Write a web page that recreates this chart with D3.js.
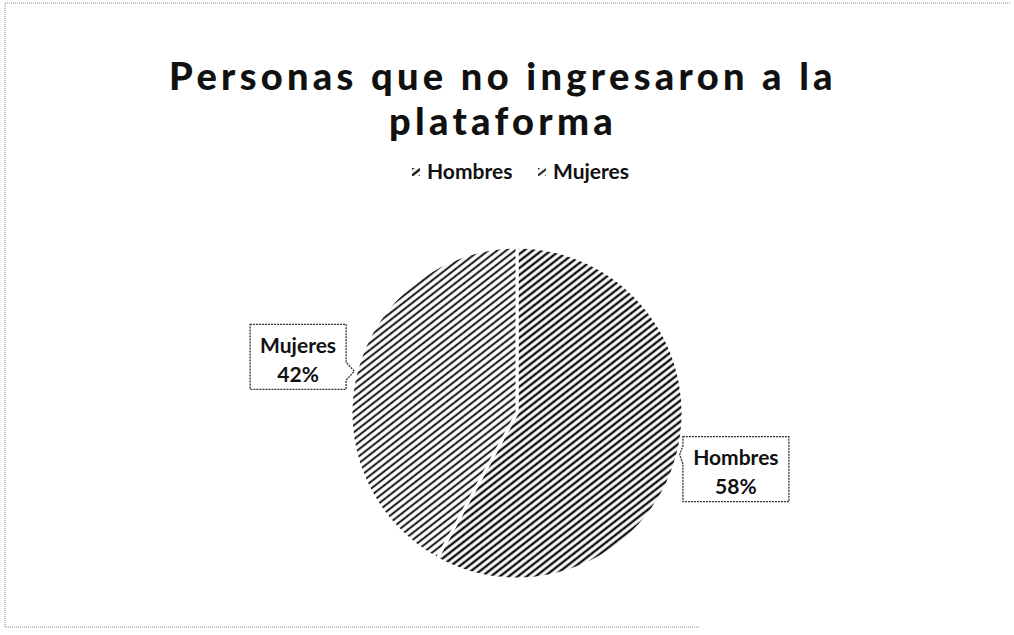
<!DOCTYPE html>
<html>
<head>
<meta charset="utf-8">
<script src="https://cdn.jsdelivr.net/npm/d3@7"></script>
<style>
  body { margin: 0; background: #fff; }
  svg { display: block; font-family: Lato, "Open Sans", sans-serif; }
</style>
</head>
<body>
<svg id="chart" width="1014" height="635"></svg>
<script>
var categories = ["Hombres", "Mujeres"];
var values = [58, 42];
var titleLines = ["Personas que no ingresaron a la", "plataforma"];

var svg = d3.select("#chart");
var W = 1014, H = 635;
var cx = 517, cy = 413, r = 166;

// scanned border: top, left and bottom edges only
svg.append("path")
  .attr("d", "M1010,3H5V627H700")
  .attr("fill", "none")
  .attr("stroke", "#888")
  .attr("stroke-width", 1)
  .attr("stroke-dasharray", "1,1");

// hatch patterns
var defs = svg.append("defs");
var hatch = [
  {id: "hatchH", width: 2.4, color: "#111"},
  {id: "hatchM", width: 2.1, color: "#222"}
];
hatch.forEach(function(h) {
  var p = defs.append("pattern")
    .attr("id", h.id)
    .attr("patternUnits", "userSpaceOnUse")
    .attr("width", 5.5).attr("height", 5.5)
    .attr("patternTransform", "rotate(-38)");
  p.append("rect").attr("width", 5.5).attr("height", 5.5).attr("fill", "#fff");
  p.append("line")
    .attr("x1", 0).attr("y1", 2.75).attr("x2", 5.5).attr("y2", 2.75)
    .attr("stroke", h.color).attr("stroke-width", h.width);
});

var color = d3.scaleOrdinal()
  .domain(categories)
  .range(["url(#hatchH)", "url(#hatchM)"]);

// title
svg.append("text")
  .attr("text-anchor", "middle")
  .attr("font-size", 38)
  .attr("font-weight", 900)
  .attr("letter-spacing", 4.3)
  .attr("fill", "#111")
  .selectAll("tspan")
  .data(titleLines)
  .join("tspan")
  .attr("x", 503)
  .attr("y", function(d, i) { return 90 + i * 45; })
  .text(function(d) { return d; });

// legend
var legendX = d3.scalePoint().domain(categories).range([412, 538]);
var lg = svg.append("g").selectAll("g")
  .data(categories)
  .join("g")
  .attr("transform", function(d) { return "translate(" + legendX(d) + ",172)"; });
lg.append("rect")
  .attr("x", 0).attr("y", -4)
  .attr("width", 8).attr("height", 8)
  .attr("fill", function(d) { return color(d); });
lg.append("text")
  .attr("x", 15).attr("y", 7)
  .attr("font-size", 21)
  .attr("font-weight", "bold")
  .attr("fill", "#111")
  .text(function(d) { return d; });

// pie
var pie = d3.pie().sort(null).value(function(d) { return d.v; });
var data = categories.map(function(c, i) { return {c: c, v: values[i]}; });
var arcs = pie(data);
var arc = d3.arc().innerRadius(0).outerRadius(r);

var g = svg.append("g").attr("transform", "translate(" + cx + "," + cy + ")");
g.selectAll("path")
  .data(arcs)
  .join("path")
  .attr("d", arc)
  .attr("fill", function(d) { return color(d.data.c); })
  .attr("stroke", "#fff")
  .attr("stroke-width", 3)
  .attr("stroke-linejoin", "round");

// data labels with callouts
var labelR = 226;
var boxW = {Hombres: 106, Mujeres: 96}, boxH = 65;
arcs.forEach(function(d) {
  var a = (d.startAngle + d.endAngle) / 2;
  var lx = Math.sin(a) * labelR, ly = -Math.cos(a) * labelR;
  var tx = Math.sin(a) * (r + 2), ty = -Math.cos(a) * (r + 2);
  var w = boxW[d.data.c];
  var x0 = lx - w / 2, x1 = lx + w / 2, y0 = ly - boxH / 2, y1 = ly + boxH / 2;
  var py = Math.max(y0 + 9, Math.min(y1 - 9, ty));
  var path;
  if (lx > 0) {
    path = "M" + x0 + "," + y0 + "H" + x1 + "V" + y1 + "H" + x0 +
      "V" + (py + 9) + "L" + tx + "," + ty + "L" + x0 + "," + (py - 9) + "Z";
  } else {
    path = "M" + x0 + "," + y0 + "H" + x1 + "V" + (py - 9) +
      "L" + tx + "," + ty + "L" + x1 + "," + (py + 9) + "V" + y1 + "H" + x0 + "Z";
  }
  var lab = g.append("g");
  lab.append("path")
    .attr("d", path)
    .attr("fill", "#fff")
    .attr("stroke", "#333")
    .attr("stroke-width", 1.3)
    .attr("stroke-dasharray", "2,1");
  lab.append("text")
    .attr("x", lx).attr("y", ly - 4)
    .attr("text-anchor", "middle")
    .attr("font-size", 21)
    .attr("font-weight", "bold")
    .attr("fill", "#111")
    .text(d.data.c);
  lab.append("text")
    .attr("x", lx).attr("y", ly + 25)
    .attr("text-anchor", "middle")
    .attr("font-size", 21)
    .attr("font-weight", "bold")
    .attr("fill", "#111")
    .text(d.data.v + "%");
});
</script>
</body>
</html>
